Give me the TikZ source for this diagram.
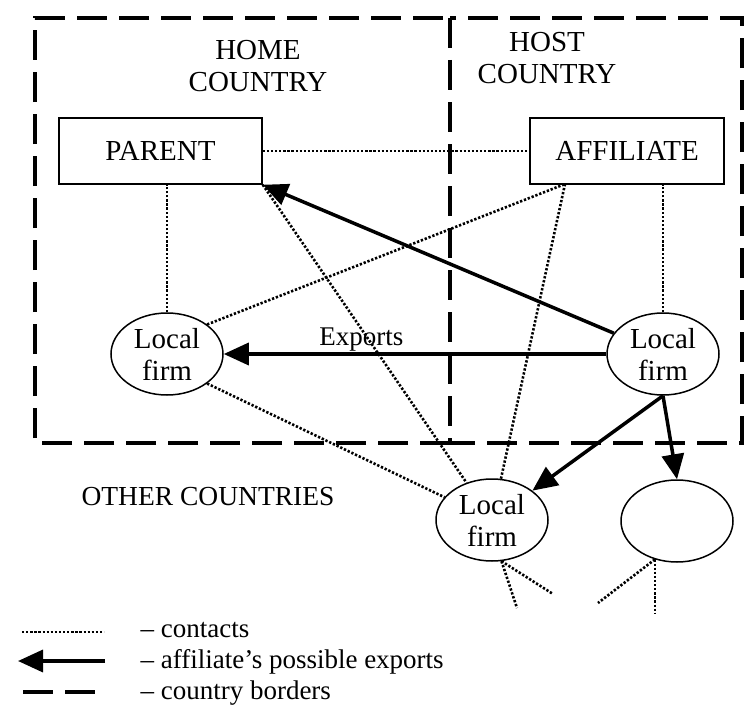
\documentclass[tikz,border=0pt]{standalone}
\usepackage{fontspec}
\setmainfont{Liberation Serif}
\usetikzlibrary{arrows.meta,positioning,shapes.geometric}

\begin{document}
\begin{tikzpicture}[
  x=1pt, y=-1pt,
  every node/.style={font=\fontsize{29}{32}\selectfont},
  box/.style={draw, rectangle, line width=1.5pt, minimum height=66pt, inner sep=0pt},
  firm/.style={draw, ellipse, line width=1.5pt, minimum width=112pt, minimum height=82pt, inner sep=0pt, align=center},
  key/.style={anchor=base west, font=\fontsize{27}{30}\selectfont},
  contact/.style={line width=2.6pt, dash pattern=on 2.3pt off 1.8pt},
  export/.style={-{Triangle[length=25pt,width=22pt]}, line width=3.5pt},
  border/.style={line width=4pt, dash pattern=on 30pt off 12pt}
]
  \useasboundingbox (0,0) rectangle (747,709);

  % Country borders
  \draw[border] (450,443) -- (35,443) -- (35,18) -- (450,18);
  \draw[border] (450,18) rectangle (742,443);
  \node[align=center] (home) at (258,66) {HOME\\COUNTRY};
  \node[align=center] (host) at (547,58) {HOST\\COUNTRY};
  \node[font=\fontsize{27.5}{32}\selectfont] (others) at (208,497) {OTHER COUNTRIES};

  % Firms
  \node[box, minimum width=203pt] (parent) at (160.5,151) {PARENT};
  \node[box, minimum width=194pt] (affiliate) at (627,151) {AFFILIATE};
  \node[firm] (firmhome) at (167,354) {Local\\firm};
  \node[firm] (firmhost) at (663,354) {Local\\firm};
  \node[firm] (firmother) at (492,520) {Local\\firm};
  \node[firm] (other) at (677,521) {};
  \coordinate (affil) at (565,184);

  % Contacts
  \draw[contact] (parent) -- (affiliate);
  \draw[contact] (firmhome) -- (firmhome |- parent.south);
  \draw[contact] (firmhost) -- (firmhost |- affiliate.south);
  \draw[contact] (firmhome.north east) -- (affil);
  \draw[contact] (parent.south east) -- (firmother);
  \draw[contact] (affil) -- (firmother);
  \draw[contact] (firmhome.south east) -- (firmother);
  \coordinate (loose1) at (517,608);
  \coordinate (loose2) at (553,594);
  \coordinate (loose3) at (598,603);
  \coordinate (loose4) at (648,613);
  \draw[contact] (firmother.-77) -- (loose1);
  \draw[contact] (firmother.-77) -- (loose2);
  \draw[contact] (other.-120) -- (loose3);
  \draw[contact] (other.-120) -- (other.-120 |- loose4);

  % Affiliate's exports
  \draw[export] (firmhost) -- (parent.south east);
  \draw[export] (firmhost) -- (firmhome) node[pos=0.64, above, inner sep=1pt, font=\fontsize{27}{30}\selectfont] (exports) {Exports};
  \draw[export] (firmhost.south) -- (firmother);
  \draw[export] (firmhost.south) -- (other.north);

  % Legend
  \coordinate (dotL) at (22,632);
  \coordinate (dotR) at (104,632);
  \coordinate (arrL) at (18,661);
  \coordinate (arrR) at (105,661);
  \coordinate (bordL) at (23,692);
  \coordinate (bordR) at (95,692);
  \draw[contact] (dotL) -- (dotR);
  \draw[export] (arrR) -- (arrL);
  \draw[border] (bordL) -- (bordR);
  \node[key] (keycontact) at (137,637) {\textendash{} contacts};
  \node[key] (keyexport) at (137,668) {\textendash{} affiliate’s possible exports};
  \node[key] (keyborder) at (137,699) {\textendash{} country borders};
\end{tikzpicture}
\end{document}
